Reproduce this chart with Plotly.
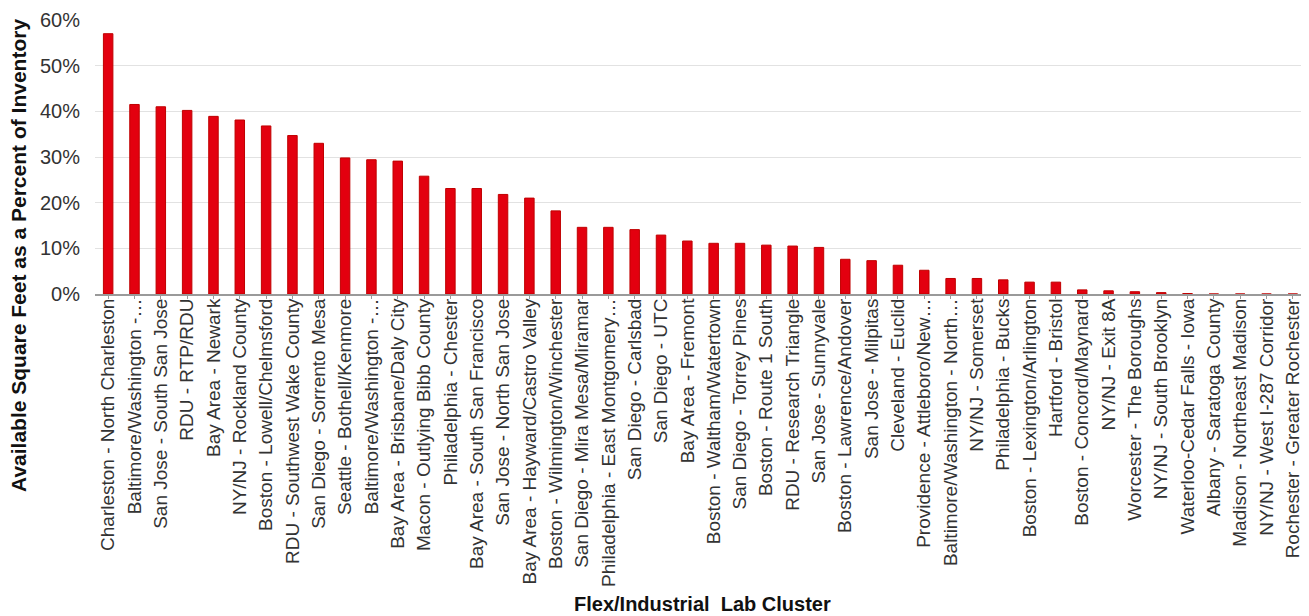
import plotly.graph_objects as go

clusters = [
    "Charleston - North Charleston",
    "Baltimore/Washington -…",
    "San Jose - South San Jose",
    "RDU - RTP/RDU",
    "Bay Area - Newark",
    "NY/NJ - Rockland County",
    "Boston - Lowell/Chelmsford",
    "RDU - Southwest Wake County",
    "San Diego - Sorrento Mesa",
    "Seattle - Bothell/Kenmore",
    "Baltimore/Washington -…",
    "Bay Area - Brisbane/Daly City",
    "Macon - Outlying Bibb County",
    "Philadelphia - Chester",
    "Bay Area - South San Francisco",
    "San Jose - North San Jose",
    "Bay Area - Hayward/Castro Valley",
    "Boston - Wilmington/Winchester",
    "San Diego - Mira Mesa/Miramar",
    "Philadelphia - East Montgomery…",
    "San Diego - Carlsbad",
    "San Diego - UTC",
    "Bay Area - Fremont",
    "Boston - Waltham/Watertown",
    "San Diego - Torrey Pines",
    "Boston - Route 1 South",
    "RDU - Research Triangle",
    "San Jose - Sunnyvale",
    "Boston - Lawrence/Andover",
    "San Jose - Milpitas",
    "Cleveland - Euclid",
    "Providence - Attleboro/New…",
    "Baltimore/Washington - North…",
    "NY/NJ - Somerset",
    "Philadelphia - Bucks",
    "Boston - Lexington/Arlington",
    "Hartford - Bristol",
    "Boston - Concord/Maynard",
    "NY/NJ - Exit 8A",
    "Worcester - The Boroughs",
    "NY/NJ - South Brooklyn",
    "Waterloo-Cedar Falls - Iowa",
    "Albany - Saratoga County",
    "Madison - Northeast Madison",
    "NY/NJ - West I-287 Corridor",
    "Rochester - Greater Rochester",
]

available_pct = [
    0.570, 0.415, 0.410, 0.402, 0.389, 0.381, 0.368, 0.347, 0.330, 0.298,
    0.294, 0.291, 0.258, 0.231, 0.231, 0.218, 0.210, 0.182, 0.146, 0.146,
    0.141, 0.129, 0.116, 0.111, 0.111, 0.107, 0.105, 0.102, 0.076, 0.073,
    0.063, 0.052, 0.034, 0.034, 0.031, 0.026, 0.026, 0.009, 0.007, 0.005,
    0.003, 0.001, 0.0, 0.0, 0.0, 0.0,
]

y_ticks = [0, 0.1, 0.2, 0.3, 0.4, 0.5, 0.6]

x_idx = list(range(len(clusters)))

# the page body has an 8px margin, so the figure is drawn offset by 8px
OFF = 8
W, H = 1309 - OFF, 616 - OFF
ML, MT = 95 - OFF, 20 - OFF
PLOT_BOTTOM = 294 - OFF
PLOT_RIGHT = 1306 - OFF
MR, MB = W - PLOT_RIGHT, H - PLOT_BOTTOM
PW, PH = W - ML - MR, H - MT - MB

fig = go.Figure(
    go.Bar(
        x=x_idx,
        y=available_pct,
        marker=dict(color="#e3000f", line=dict(color="#c00000", width=1)),
        width=0.36,
        hovertext=clusters,
    )
)

font_family = "Liberation Sans, Arial, sans-serif"

fig.update_layout(
    width=W,
    height=H,
    margin=dict(l=ML, r=MR, t=MT, b=MB, autoexpand=False),
    paper_bgcolor="white",
    plot_bgcolor="white",
    showlegend=False,
    font=dict(family=font_family, color="#333333"),
    xaxis=dict(
        tickmode="array",
        tickvals=x_idx,
        ticktext=clusters,
        range=[-0.5, len(clusters) - 0.5],
        tickangle=-90,
        tickfont=dict(size=19, color="#333333", family=font_family),
        ticklabelstandoff=-8,
        showline=True,
        linecolor="#9a9a9a",
        linewidth=2,
        ticks="outside",
        tickson="boundaries",
        ticklen=3,
        tickcolor="#9a9a9a",
        tickwidth=1,
        showgrid=False,
        automargin=False,
        fixedrange=True,
    ),
    yaxis=dict(
        range=[0, 0.6],
        tickvals=y_ticks,
        tickformat=".0%",
        tickfont=dict(size=20, color="#333333", family=font_family),
        ticklabelstandoff=14,
        showgrid=True,
        gridcolor="#e2e2e2",
        gridwidth=1,
        zeroline=False,
        showline=False,
        ticks="",
        automargin=False,
        fixedrange=True,
    ),
    annotations=[
        dict(
            text="<b>Available Square Feet as a Percent of Inventory</b>",
            xref="paper", yref="paper",
            x=(18 - OFF - ML) / PW, y=(PLOT_BOTTOM - (256 - OFF)) / PH,
            xanchor="center", yanchor="middle",
            textangle=-90,
            showarrow=False,
            font=dict(size=21, color="#111111", family=font_family),
        ),
        dict(
            text="<b>Flex/Industrial  Lab Cluster</b>",
            xref="paper", yref="paper",
            x=(702 - OFF - ML) / PW, y=-((604 - OFF) - PLOT_BOTTOM) / PH,
            xanchor="center", yanchor="middle",
            showarrow=False,
            font=dict(size=20, color="#111111", family=font_family),
        ),
    ],
)

fig.write_html("out.html")
